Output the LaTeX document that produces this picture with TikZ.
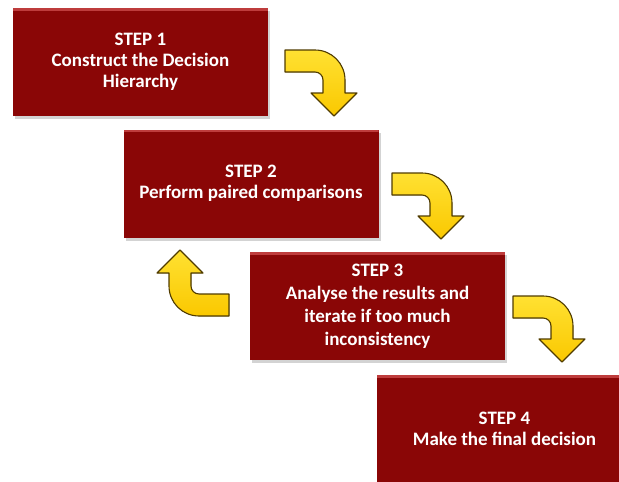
\documentclass[tikz,border=0pt]{standalone}
\usepackage{fontspec}
\setmainfont{Carlito}
\usepackage{tikz}
\usetikzlibrary{shadows}

\definecolor{boxred}{RGB}{138,6,6}
\definecolor{boxtop}{RGB}{190,60,60}
\definecolor{arrowgold}{RGB}{250,200,0}
\definecolor{arrowlight}{RGB}{255,225,50}
\definecolor{arrowedge}{RGB}{80,60,0}

\tikzset{bent arrow/.pic={
    \filldraw[turn arrow] (0,0) -- (30,0) .. controls (46.6,0) and (60,13.4) .. (60,30)
      -- (60,43) -- (72,43) -- (49,66) -- (26,43) -- (38,43) -- (38,30)
      .. controls (38,25.6) and (34.4,22) .. (30,22) -- (0,22) -- cycle;
  }}

\begin{document}
\begin{tikzpicture}[x=1pt,y=-1pt]
    \tikzstyle{step box}=[rectangle,fill=boxred,minimum width=255pt,minimum height=108pt,
      text=white,font=\bfseries\fontsize{19}{21}\selectfont,align=center,
      drop shadow={shadow xshift=2pt,shadow yshift=-3pt,opacity=0.35},
      path picture={\fill[boxtop] (path picture bounding box.north west) rectangle
        ([yshift=-2.5pt]path picture bounding box.north east);}]
    \tikzstyle{turn arrow}=[top color=arrowlight,bottom color=arrowgold,draw=arrowedge,
      line width=1.1pt,line join=round]
    \useasboundingbox (0,0) rectangle (619,482);
    \clip (0,0) rectangle (619,482);
    \node[step box] (S_1) at (140.5,62) {STEP 1\\Construct the Decision\\Hierarchy};
    \node[step box] (S_2) at (251,183.5) {STEP 2\\Perform paired comparisons};
    \node[step box,font=\bfseries\fontsize{19}{23}\selectfont] (S_3) at (377.5,306)
      {STEP 3\\Analyse the results and\\iterate if too much\\inconsistency};
    \node[step box] (S_4) at (504.5,429) {STEP 4\\Make the final decision};
    \pic at (285,50) {bent arrow};
    \pic at (392,173) {bent arrow};
    \pic at (513,296) {bent arrow};
    \pic[rotate=180] at (229,316) {bent arrow};
  \end{tikzpicture}
\end{document}
